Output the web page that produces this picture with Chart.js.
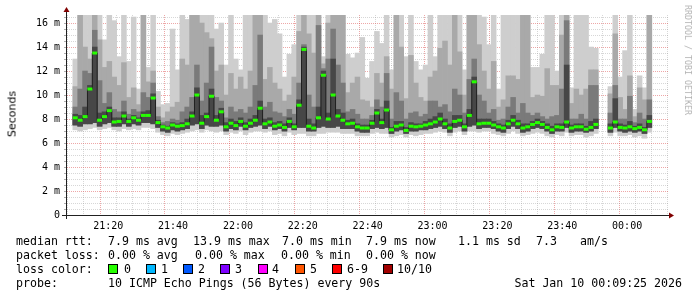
<!DOCTYPE html>
<html>
<head>
<meta charset="utf-8">
<script src="https://cdn.jsdelivr.net/npm/chart.js@4.4.1/dist/chart.umd.min.js"></script>
<style>
  body { margin: 0; background: #fff; width: 697px; height: 297px; overflow: hidden; position: relative; }
  #chart { position: absolute; left: 0; top: 0; }
  .t { position: absolute; font: 11.6px "DejaVu Sans Mono", monospace; white-space: pre; line-height: 14px; color: #000; }
  .sw { position: absolute; width: 8px; height: 8px; border: 1px solid #000; }
  #ylab { position: absolute; left: 12px; top: 114px; transform: translate(-50%, -50%) rotate(-90deg); font: 11px "DejaVu Sans", sans-serif; color: #000; white-space: nowrap; }
  #credit { position: absolute; left: 688px; top: 60px; transform: translate(-50%, -50%) rotate(90deg); font: 8.3px "DejaVu Sans Mono", monospace; color: #b4b4b4; white-space: nowrap; }
</style>
</head>
<body>
<canvas id="chart" width="697" height="297"></canvas>
<div id="ylab">Seconds</div>
<div id="credit">RRDTOOL / TOBI OETIKER</div>

<div class="t" style="left:16px;top:234px">median rtt:</div>
<div class="t" style="left:108px;top:234px">7.9 ms avg</div>
<div class="t" style="left:193px;top:234px">13.9 ms max</div>
<div class="t" style="left:282px;top:234px">7.0 ms min</div>
<div class="t" style="left:366px;top:234px">7.9 ms now</div>
<div class="t" style="left:458px;top:234px">1.1 ms sd</div>
<div class="t" style="left:536px;top:234px">7.3</div>
<div class="t" style="left:580px;top:234px">am/s</div>

<div class="t" style="left:16px;top:248px">packet loss:</div>
<div class="t" style="left:108px;top:248px">0.00 % avg</div>
<div class="t" style="left:195px;top:248px">0.00 % max</div>
<div class="t" style="left:281px;top:248px">0.00 % min</div>
<div class="t" style="left:366px;top:248px">0.00 % now</div>

<div class="t" style="left:16px;top:262px">loss color:</div>
<div id="lossRow"></div>

<div class="t" style="left:16px;top:276px">probe:</div>
<div class="t" style="left:108px;top:276px">10 ICMP Echo Pings (56 Bytes) every 90s</div>
<div class="t" style="right:15px;top:276px">Sat Jan 10 00:09:25 2026</div>

<script>
// ── DATA (ms, one value per 90 s step, 21:09:48 → 00:10) ──
const median = [
  8.1, 7.9, 8.2, 10.5, 13.5, 7.9, 8.2, 8.7, 7.75, 7.8, 8.25, 7.8, 8.1, 7.9, 8.3, 8.3, 9.75,
  7.7, 7.35, 7.25, 7.5, 7.4, 7.45, 7.6, 8.25, 10.0, 7.65, 8.2, 9.9, 7.9, 8.6, 7.35, 7.65, 7.45,
  7.8, 7.4, 7.65, 7.9, 8.9, 7.6, 7.75, 7.4, 7.5, 7.3, 7.8, 7.35, 9.15, 13.8, 7.4, 7.25, 8.1, 11.65,
  8.0, 10.0, 8.25, 7.9, 7.6, 7.65, 7.35, 7.25, 7.25, 7.65, 8.5, 7.7, 8.75, 7.1, 7.4, 7.5, 7.05,
  7.4, 7.35, 7.4, 7.5, 7.6, 7.75, 8.0, 7.6, 7.25, 7.8, 7.9, 7.35, 8.3, 11.1, 7.6, 7.65, 7.65,
  7.5, 7.35, 7.25, 7.6, 7.9, 7.6, 7.25, 7.35, 7.55, 7.7, 7.55, 7.3, 7.1, 7.35, 7.3, 7.75, 7.25,
  7.35, 7.35, 7.15, 7.3, 7.55, null, null, 7.25, 7.75, 7.3, 7.25, 7.35, 7.2, 7.3, 7.1, 7.8
];
// smoke: outer (max ping) to inner band tops
const smokeTop1 = [
  13.0, 17, 17, 17, 17, 17, 14.6, 17, 16.2, 13.2, 17, 12.8, 16.5, 10.5, 17, 12.3, 17,
  10.3, 9.2, 9.3, 15.5, 12.1, 17, 16.3, 17, 17, 17, 17, 17, 15.5, 16.0, 12.5, 17, 13.0,
  12.1, 17, 17, 17, 17, 17, 16.0, 16.3, 15.1, 11.5, 13.4, 14.2, 17, 17, 17, 17, 17, 13.2,
  17, 17, 17, 17, 13.4, 13.1, 13.5, 14.8, 11.4, 12.8, 15.3, 14.3, 17, 12.1, 17, 17, 13.2,
  17, 12.8, 12.1, 12.5, 17, 13.2, 17, 17, 17, 17, 17, 12.1, 17, 17, 17, 16.5, 14.2,
  17, 10.5, 17, 17, 17, 17, 17, 17, 12.3, 12.3, 13.4, 17, 17, 12.0, 17, 17, 10.6,
  17, 17, 17, 14.0, 13.9, null, null, 10.7, 17, 11.5, 13.7, 17, 8.8, 11.6, 10.6, 17
];
const smokeTop2 = [
  10.7, 17, 14.0, 13.0, 17, 14.6, 12.3, 12.8, 11.5, 10.8, 12.7, 9.8, 10.6, 9.2, 17, 11.1, 12.0,
  9.0, 8.1, 8.6, 9.0, 9.4, 13.0, 12.5, 17, 17, 16.0, 15.2, 14.7, 12.0, 12.5, 10.0, 11.8, 10.5,
  11.5, 10.5, 12.0, 17, 17, 11.3, 12.3, 11.0, 10.5, 9.5, 10.0, 11.5, 15.3, 17, 15.1, 13.5, 17, 12.6,
  16.0, 17, 17, 17, 10.2, 11.0, 11.5, 9.6, 9.5, 9.0, 11.8, 11.0, 13.2, 10.5, 17, 14.0, 9.7,
  13.3, 11.0, 9.8, 9.5, 11.5, 12.0, 13.9, 14.5, 12.5, 17, 13.6, 10.0, 17, 17, 14.2, 12.0, 10.5,
  12.8, 9.0, 9.6, 11.6, 11.6, 11.3, 17, 17, 9.8, 10.0, 9.9, 12.2, 10.8, 10.8, 15.0, 17, 9.3,
  10.5, 10.0, 10.5, 12.1, 12.1, null, null, 10.1, 15.1, 9.8, 8.8, 11.6, 8.2, 10.6, 9.6, 17
];
const smokeTop3 = [
  9.0, 10.5, 12.0, 11.8, 15.4, 11.2, 9.3, 10.2, 8.8, 8.6, 9.5, 8.4, 8.8, 8.6, 10.2, 9.8, 11.0,
  8.2, 7.7, 7.8, 8.0, 7.9, 8.6, 9.0, 9.8, 12.5, 9.5, 11.0, 14.0, 9.8, 9.5, 8.1, 9.0, 8.6,
  8.8, 8.5, 9.0, 10.8, 15.0, 9.0, 9.4, 8.6, 8.5, 8.2, 8.8, 8.4, 11.0, 14.2, 10.0, 9.0, 15.8, 12.2,
  13.0, 15.5, 12.5, 11.0, 8.6, 8.8, 8.4, 8.0, 8.0, 8.3, 9.6, 9.0, 11.8, 8.0, 10.2, 9.5, 8.0,
  8.5, 8.6, 8.2, 8.4, 9.5, 9.5, 9.0, 9.2, 8.6, 10.5, 10.0, 8.5, 11.3, 13.0, 10.0, 9.5, 8.5,
  8.8, 7.9, 8.0, 9.0, 9.8, 8.5, 9.3, 8.5, 8.3, 8.5, 8.2, 8.0, 8.2, 8.3, 10.5, 16.2, 8.0,
  8.0, 8.4, 8.0, 10.8, 10.8, null, null, 8.5, 10.8, 8.0, 8.0, 9.9, 7.7, 8.5, 8.0, 9.6
];
const smokeTop4 = [
  8.4, 8.3, 9.0, 10.8, 14.0, 8.5, 8.6, 9.0, 8.1, 8.1, 8.6, 8.0, 8.3, 8.1, 8.6, 8.7, 10.1,
  7.9, 7.5, 7.4, 7.7, 7.6, 7.7, 8.0, 8.6, 10.6, 8.3, 8.5, 10.5, 8.3, 8.9, 7.7, 8.0, 7.8,
  8.1, 7.7, 8.0, 8.3, 9.5, 8.0, 8.1, 7.7, 7.8, 7.6, 8.1, 7.6, 9.6, 14.0, 8.0, 7.6, 9.0, 12.0,
  8.5, 13.0, 8.8, 8.5, 7.9, 8.0, 7.6, 7.5, 7.5, 7.9, 8.8, 8.0, 9.5, 7.3, 7.8, 7.8, 7.3,
  7.7, 7.6, 7.6, 7.8, 8.0, 8.2, 8.5, 8.0, 7.6, 8.3, 8.3, 7.6, 8.8, 11.5, 8.0, 8.0, 8.0,
  7.8, 7.6, 7.5, 7.9, 8.3, 7.9, 7.6, 7.6, 7.8, 8.0, 7.8, 7.6, 7.4, 7.6, 7.6, 12.5, 7.5,
  7.6, 7.6, 7.4, 7.8, 8.0, null, null, 7.6, 9.7, 7.6, 7.5, 7.8, 7.4, 7.6, 7.3, 8.3
];
// smoke bottoms: outer (min ping) and inner
const smokeLowA = [
  7.1, 7.0, 7.1, 7.2, 7.3, 7.1, 7.2, 7.3, 7.1, 7.0, 7.2, 7.1, 7.2, 7.1, 7.3, 7.3, 7.2,
  6.9, 6.7, 6.6, 6.8, 6.7, 6.8, 6.9, 7.0, 7.1, 6.9, 7.1, 7.0, 6.9, 7.0, 6.7, 6.9, 6.8,
  7.0, 6.7, 6.9, 7.0, 7.0, 6.9, 7.0, 6.7, 6.8, 6.6, 6.9, 6.7, 6.8, 6.8, 6.6, 6.6, 6.8, 6.8,
  6.9, 6.9, 6.9, 6.8, 6.8, 6.8, 6.6, 6.6, 6.6, 6.8, 6.9, 6.8, 6.8, 6.5, 6.6, 6.7, 6.5,
  6.7, 6.6, 6.7, 6.8, 6.8, 6.9, 7.0, 6.9, 6.6, 6.9, 7.0, 6.7, 7.0, 7.0, 6.9, 7.0, 7.0,
  6.8, 6.7, 6.6, 6.8, 7.0, 6.8, 6.6, 6.7, 6.8, 6.9, 6.8, 6.6, 6.5, 6.7, 6.6, 6.9, 6.6,
  6.7, 6.7, 6.5, 6.6, 6.8, null, null, 6.6, 6.9, 6.6, 6.6, 6.7, 6.5, 6.6, 6.4, 6.9
];
const smokeLowB = [
  7.5, 7.4, 7.6, 7.6, 7.7, 7.4, 7.6, 7.7, 7.4, 7.4, 7.6, 7.4, 7.6, 7.5, 7.7, 7.7, 7.6,
  7.3, 7.0, 6.9, 7.1, 7.0, 7.1, 7.2, 7.5, 7.6, 7.2, 7.5, 7.4, 7.4, 7.5, 7.0, 7.2, 7.1,
  7.4, 7.1, 7.3, 7.4, 7.5, 7.2, 7.4, 7.1, 7.2, 7.0, 7.3, 7.1, 7.3, 7.3, 7.0, 7.0, 7.3, 7.4,
  7.3, 7.3, 7.4, 7.2, 7.2, 7.2, 7.0, 6.9, 6.9, 7.2, 7.3, 7.2, 7.3, 6.8, 7.0, 7.1, 6.8,
  7.0, 7.0, 7.1, 7.1, 7.2, 7.3, 7.4, 7.2, 6.9, 7.3, 7.4, 7.0, 7.4, 7.5, 7.2, 7.3, 7.3,
  7.2, 7.0, 6.9, 7.2, 7.4, 7.2, 6.9, 7.0, 7.2, 7.3, 7.2, 7.0, 6.8, 7.0, 7.0, 7.3, 6.9,
  7.0, 7.0, 6.9, 7.0, 7.2, null, null, 6.9, 7.3, 7.0, 6.9, 7.0, 6.9, 7.0, 6.8, 7.3
];

// ── AXES ──
const xTickLabels = ['21:20', '21:40', '22:00', '22:20', '22:40', '23:00', '23:20', '23:40', '00:00'];
const yTickLabels = ['0', '2 m', '4 m', '6 m', '8 m', '10 m', '12 m', '14 m', '16 m'];
const lossLabels = ['0', '1', '2', '3', '4', '5', '6-9', '10/10'];
const lossColors = ['#26ff00', '#00b8ff', '#0059ff', '#7e00ff', '#ff00ff', '#ff5500', '#ff0000', '#a10000'];

// minutes after 21:00
const X_MIN = 9.8, X_MAX = 190.1, FIRST_STEP = 9.85, STEP = 1.5;
const times = median.map((_, i) => FIRST_STEP + i * STEP);

const MINOR = 'rgba(143,143,143,0.36)';
const MAJOR = 'rgba(222,79,79,0.5)';
const MONO = 'DejaVu Sans Mono';

// loss color legend row
const lossBoxX = [108, 146, 183, 220, 258, 295, 332, 383];
const lossTextX = [124, 161, 198, 235, 272, 310, 347, 397];
const row = document.getElementById('lossRow');
lossLabels.forEach((l, i) => {
  const b = document.createElement('div');
  b.className = 'sw';
  b.style.cssText = `left:${lossBoxX[i]}px;top:264px;background:${lossColors[i]}`;
  row.appendChild(b);
  const t = document.createElement('div');
  t.className = 't';
  t.style.cssText = `left:${lossTextX[i]}px;top:262px`;
  t.textContent = l;
  row.appendChild(t);
});

function band(lo, hi) {
  return times.map((t, i) => ({ x: t, y: hi[i] == null ? null : [lo[i], hi[i]] }))
    .filter(p => p.y !== null);
}
function barSet(lo, hi, color, order) {
  return { type: 'bar', data: band(lo, hi), backgroundColor: color, borderWidth: 0,
    barPercentage: 1, categoryPercentage: 1, grouped: false, clip: 0, order };
}

// ── axis lines + arrows ──
const axisPlugin = {
  id: 'rrdAxis',
  afterDraw(chart) {
    const { ctx, chartArea: a } = chart;
    ctx.save();
    ctx.strokeStyle = '#212121';
    ctx.lineWidth = 1;
    ctx.beginPath();
    ctx.moveTo(a.left - 5, a.bottom + 0.5); ctx.lineTo(a.right + 2, a.bottom + 0.5);
    ctx.moveTo(a.left - 0.5, a.bottom + 4); ctx.lineTo(a.left - 0.5, a.top - 4);
    ctx.stroke();
    ctx.fillStyle = '#800000';
    ctx.beginPath();
    ctx.moveTo(a.right + 1, a.bottom - 2.5); ctx.lineTo(a.right + 6, a.bottom + 0.5); ctx.lineTo(a.right + 1, a.bottom + 3.5);
    ctx.fill();
    ctx.beginPath();
    ctx.moveTo(a.left - 3.5, a.top - 3); ctx.lineTo(a.left - 0.5, a.top - 8); ctx.lineTo(a.left + 2.5, a.top - 3);
    ctx.fill();
    ctx.restore();
  }
};

new Chart(document.getElementById('chart'), {
  data: {
    datasets: [
      { type: 'line', data: times.map((t, i) => ({ x: t, y: median[i] })),
        showLine: false, pointStyle: 'line', pointRadius: 2.5, pointBorderWidth: 3,
        pointBorderColor: '#26ff00', pointBackgroundColor: '#26ff00', order: 0 },
      { type: 'line', data: times.map((t, i) => ({ x: t, y: median[i] })),
        stepped: 'middle', borderColor: '#202020', borderWidth: 1, pointRadius: 0, spanGaps: false, order: 1 },
      barSet(smokeLowB, smokeTop4, '#474747', 2),
      barSet(smokeLowB, smokeTop3, '#7a7a7a', 3),
      barSet(smokeLowB, smokeTop2, '#a9a9a9', 4),
      barSet(smokeLowA, smokeTop1, '#cecece', 5)
    ]
  },
  options: {
    responsive: false, animation: false, events: [],
    layout: { padding: { left: 0, right: 29, top: 15, bottom: 0 } },
    plugins: { legend: { display: false }, tooltip: { enabled: false } },
    scales: {
      x: {
        type: 'linear', min: X_MIN, max: X_MAX, z: 1,
        afterFit: s => { s.height = 82; },
        ticks: { stepSize: 5, autoSkip: false, maxRotation: 0, includeBounds: false, padding: 5,
          color: '#000', font: { family: MONO, size: 10 },
          callback: v => v % 20 === 0 ? xTickLabels[v / 20 - 1] : '' },
        grid: { color: c => c.tick && c.tick.value % 20 === 0 ? MAJOR : MINOR, drawTicks: false },
        border: { display: false, dash: [1, 1] }
      },
      y: {
        min: 0, max: 16.67, z: 1,
        afterFit: s => { s.width = 67; },
        ticks: { stepSize: 0.5, autoSkip: false, includeBounds: false, padding: 4,
          color: '#000', font: { family: MONO, size: 10 },
          callback: v => v % 2 === 0 ? yTickLabels[v / 2] : '' },
        grid: { color: c => c.tick && c.tick.value % 2 === 0 ? MAJOR : MINOR,
          drawTicks: true, tickLength: 3, tickColor: 'rgba(120,120,120,0.6)' },
        border: { display: false, dash: [1, 1] }
      }
    }
  },
  plugins: [axisPlugin]
});
</script>
</body>
</html>
